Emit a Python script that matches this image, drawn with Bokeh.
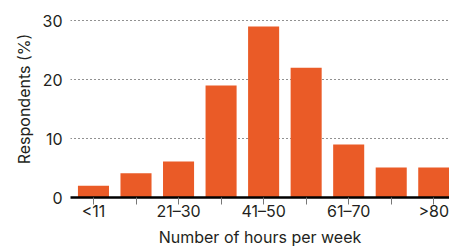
from bokeh.plotting import figure
from bokeh.models import Range1d, FixedTicker, ColumnDataSource
from bokeh.embed import file_html
from bokeh.resources import INLINE

categories = ["<11", "11–20", "21–30", "31–40", "41–50", "51–60", "61–70", "71–80", ">80"]
shown_labels = ["<11", "", "21–30", "", "41–50", "", "61–70", "", ">80"]
respondents = [2.0, 4.1, 6.1, 19.0, 29.0, 22.0, 9.0, 5.1, 5.1]
y_ticks = [0, 10, 20, 30]
x_title = "Number of hours per week"
y_title = "Respondents (%)"

FONT = "Inter"
TXT = "#231f20"
BAR = "#EA5B27"

idx = list(range(len(categories)))
src = ColumnDataSource(dict(x=idx, y=respondents, cat=categories))

p = figure(width=449, height=249, output_backend="svg", toolbar_location=None,
           x_range=Range1d(-0.54, 8.37), y_range=Range1d(0, 33.4),
           min_border_left=70, min_border_right=0, min_border_top=0, min_border_bottom=0)
p.outline_line_color = None
p.background_fill_color = "white"
p.border_fill_color = "white"

p.vbar(x="x", top="y", width=0.73, bottom=0, source=src, color=BAR, line_color=None)

# x axis
xa = p.xaxis[0]
xa.ticker = FixedTicker(ticks=idx)
xa.major_label_overrides = {i: lab for i, lab in enumerate(shown_labels)}
xa.axis_line_color = "black"
xa.axis_line_width = 2.5
xa.major_tick_line_color = "#777777"
xa.major_tick_in = 0
xa.major_tick_out = 7
xa.minor_tick_line_color = None
xa.major_label_text_font = FONT
xa.major_label_text_font_size = "16px"
xa.major_label_text_color = TXT
xa.major_label_standoff = -4
xa.axis_label = x_title
xa.axis_label_text_font = FONT
xa.axis_label_text_font_size = "16px"
xa.axis_label_text_font_style = "normal"
xa.axis_label_text_color = TXT
xa.axis_label_standoff = 3

# y axis
ya = p.yaxis[0]
ya.ticker = FixedTicker(ticks=y_ticks)
ya.axis_line_color = None
ya.major_tick_line_color = None
ya.minor_tick_line_color = None
ya.major_tick_out = 0
ya.major_tick_in = 0
ya.major_label_standoff = 8
ya.major_label_text_font = FONT
ya.major_label_text_font_size = "16px"
ya.major_label_text_color = TXT
ya.axis_label = y_title
ya.axis_label_text_font = FONT
ya.axis_label_text_font_size = "16px"
ya.axis_label_text_font_style = "normal"
ya.axis_label_text_color = TXT
ya.axis_label_standoff = 6

p.xgrid.grid_line_color = None
p.ygrid.ticker = FixedTicker(ticks=[10, 20, 30])
p.ygrid.grid_line_color = "#222222"
p.ygrid.grid_line_dash = "1 3"
p.ygrid.grid_line_width = 1.2

open("out.html", "w").write(file_html(p, INLINE))
